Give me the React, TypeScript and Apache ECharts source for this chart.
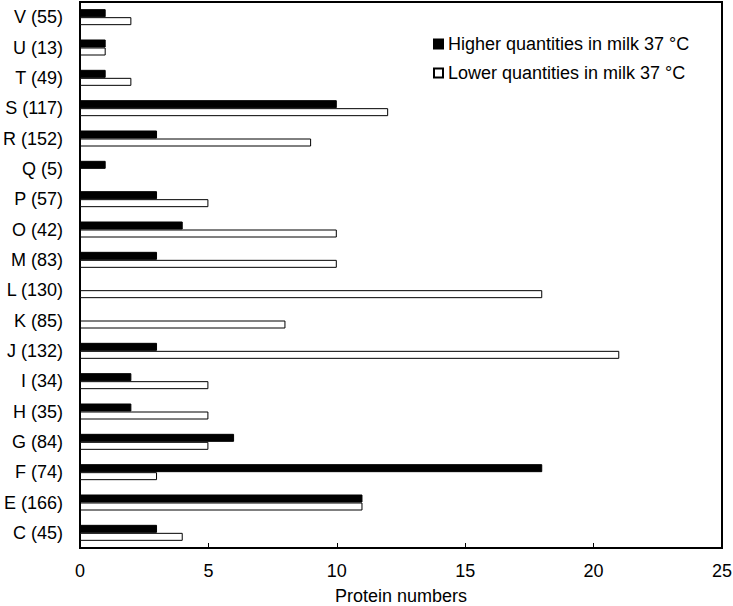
import React, { useEffect, useRef } from "react";
import * as echarts from "echarts";

const categories = ["C (45)", "E (166)", "F (74)", "G (84)", "H (35)", "I (34)", "J (132)", "K (85)", "L (130)", "M (83)", "O (42)", "P (57)", "Q (5)", "R (152)", "S (117)", "T (49)", "U (13)", "V (55)"];
const higher = [3, 11, 18, 6, 2, 2, 3, 0, 0, 3, 4, 3, 1, 3, 10, 1, 1, 1];
const lower = [4, 11, 3, 5, 5, 5, 21, 8, 18, 10, 10, 5, 0, 9, 12, 2, 1, 2];
const higherName = "Higher quantities in milk 37 °C";
const lowerName = "Lower quantities in milk 37 °C";

export default function App() {
  const ref = useRef<HTMLDivElement>(null);
  useEffect(() => {
    if (!ref.current) return;
    const chart = echarts.init(ref.current, null, { renderer: "svg" });
    const font = "Liberation Sans, Arial, sans-serif";
    chart.setOption({
      animation: false,
      textStyle: { fontFamily: font },
      grid: {
        left: 80, right: 11, top: 2, bottom: 58,
        containLabel: false,
        outerBoundsMode: "none",
        show: true, borderColor: "#000", borderWidth: 2, backgroundColor: "transparent",
      },
      legend: {
        data: [higherName, lowerName],
        orient: "vertical",
        left: 428,
        top: 30,
        icon: "rect",
        itemWidth: 9,
        itemHeight: 9,
        itemGap: 11,
        textStyle: { fontSize: 18, color: "#000", fontFamily: font },
      },
      xAxis: {
        type: "value",
        min: 0,
        max: 25,
        interval: 5,
        name: "Protein numbers",
        nameLocation: "middle",
        nameGap: 39,
        nameTextStyle: { fontSize: 18, color: "#000", fontFamily: font },
        axisLine: { show: true, lineStyle: { color: "#000", width: 2 } },
        axisTick: { show: true, inside: true, length: 5, lineStyle: { color: "#000" } },
        axisLabel: { fontSize: 18, color: "#000", margin: 14, fontFamily: font },
        splitLine: { show: false },
      },
      yAxis: {
        type: "category",
        data: categories,
        axisLine: { show: true, lineStyle: { color: "#000", width: 2 } },
        axisTick: { show: false },
        axisLabel: { fontSize: 18, color: "#000", margin: 17, fontFamily: font },
      },
      series: [
        {
          name: higherName,
          type: "bar",
          data: higher,
          barWidth: 8,
          barGap: "0%",
          itemStyle: { color: "#000", borderColor: "#000", borderWidth: 1 },
        },
        {
          name: lowerName,
          type: "bar",
          data: lower,
          barWidth: 8,
          barGap: "0%",
          itemStyle: { color: "#fff", borderColor: "#000", borderWidth: 1 },
        },
      ],
    });
    return () => chart.dispose();
  }, []);
  return <div ref={ref} style={{ width: 733, height: 606, position: "absolute", left: 0, top: 0 }} />;
}
